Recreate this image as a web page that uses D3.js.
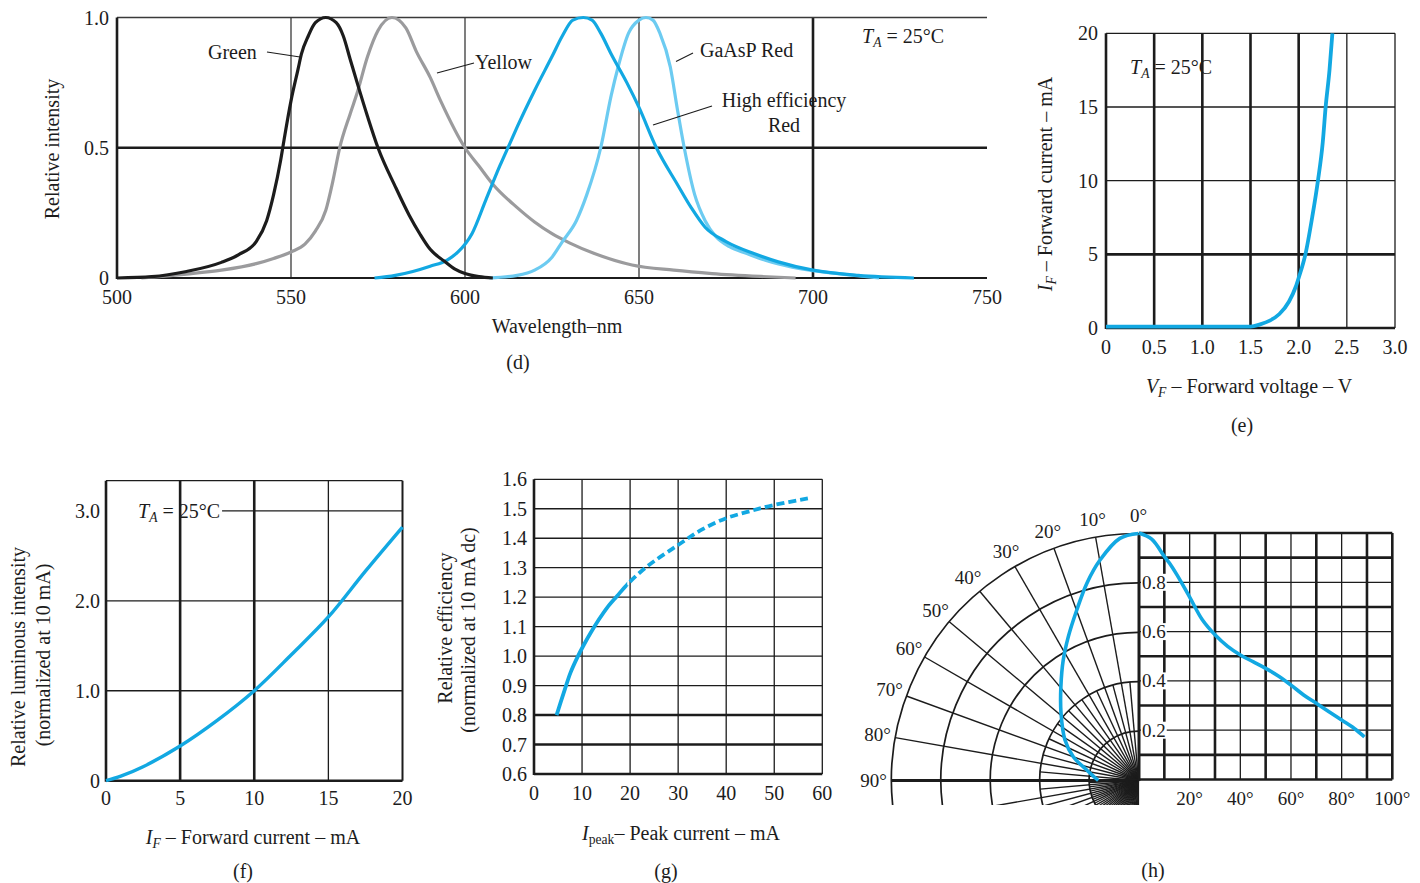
<!DOCTYPE html>
<html><head><meta charset="utf-8">
<script src="https://cdn.jsdelivr.net/npm/d3@7"></script>
<style>
html,body{margin:0;padding:0;background:#fff;}
svg text{font-family:"Liberation Serif","Times New Roman",serif;fill:#1c1c1c;}
</style></head><body>
<svg id="c" width="1420" height="883"></svg>
<script>
// ---------------- DATA ----------------
// (d) spectral response
const dWavelengthTicks = [500, 550, 600, 650, 700, 750];
const dWavelengthLabels = ["500", "550", "600", "650", "700", "750"];
const dIntensityTicks = [0, 0.5, 1.0];
const dIntensityLabels = ["0", "0.5", "1.0"];
const greenSpectrum = [[500,0],[510,0.005],[520,0.025],[530,0.06],[535,0.09],[540,0.14],[543,0.22],[545,0.32],[547,0.45],[548,0.53],[550,0.68],[552,0.8],[553,0.86],[555,0.93],[557,0.98],[560,1.0],[563,0.98],[565,0.93],[567,0.84],[569,0.75],[572,0.62],[575,0.5],[580,0.35],[584,0.24],[587,0.17],[590,0.11],[594,0.065],[597,0.035],[600,0.017],[604,0.005],[608,0]];
const yellowSpectrum = [[507,0],[520,0.015],[530,0.03],[540,0.055],[545,0.075],[550,0.1],[554,0.13],[557,0.18],[560,0.26],[562,0.37],[564,0.5],[567,0.63],[569,0.71],[572,0.85],[575,0.95],[579,1.0],[583,0.96],[586,0.87],[590,0.77],[593,0.68],[600,0.5],[604,0.43],[608,0.36],[615,0.27],[620,0.215],[625,0.17],[630,0.135],[637,0.095],[648,0.05],[660,0.03],[671,0.017],[685,0.006],[695,0]];
const hiEffRedSpectrum = [[574,0],[580,0.01],[585,0.025],[590,0.045],[595,0.07],[598,0.1],[602,0.17],[606,0.3],[610,0.43],[613,0.52],[615,0.58],[620,0.72],[625,0.85],[628,0.93],[631,0.99],[634,1.0],[636.5,0.99],[639,0.94],[642,0.86],[646.5,0.75],[650,0.655],[655,0.5],[661,0.36],[665,0.27],[669,0.195],[675,0.14],[683,0.094],[690,0.062],[700,0.03],[713,0.01],[729,0]];
const gaAsPRedSpectrum = [[607,0],[615,0.01],[620,0.03],[625,0.08],[628,0.14],[632,0.22],[635,0.32],[639,0.5],[642,0.7],[644,0.81],[647,0.94],[650,0.99],[652,1.0],[654,0.99],[656,0.94],[659,0.81],[661,0.65],[663,0.5],[666,0.32],[669,0.22],[672,0.16],[676,0.12],[681,0.094],[687,0.065],[694,0.042],[700,0.028],[709,0.014],[719,0]];

// (e) forward I-V
const eVoltageTicks = [0, 0.5, 1.0, 1.5, 2.0, 2.5, 3.0];
const eVoltageLabels = ["0", "0.5", "1.0", "1.5", "2.0", "2.5", "3.0"];
const eCurrentTicks = [0, 5, 10, 15, 20];
const eCurrentLabels = ["0", "5", "10", "15", "20"];
const forwardIV = [[0,0.1],[0.5,0.1],[1.0,0.1],[1.5,0.1],[1.6,0.25],[1.7,0.5],[1.8,0.95],[1.9,1.8],[1.97,2.8],[2.0,3.4],[2.07,5],[2.14,7.5],[2.2,10],[2.25,12.6],[2.28,15],[2.32,17.5],[2.35,20]];

// (f) luminous intensity vs forward current
const fCurrentTicks = [0, 5, 10, 15, 20];
const fCurrentLabels = ["0", "5", "10", "15", "20"];
const fIntensityTicks = [0, 1, 2, 3];
const fIntensityLabels = ["0", "1.0", "2.0", "3.0"];
const luminousVsCurrent = [[0,0],[1,0.05],[2.5,0.155],[5,0.385],[7.5,0.67],[10,1.0],[12.5,1.4],[15,1.82],[17.5,2.33],[20,2.82]];

// (g) relative efficiency vs peak current
const gCurrentTicks = [0, 10, 20, 30, 40, 50, 60];
const gCurrentLabels = ["0", "10", "20", "30", "40", "50", "60"];
const gEfficiencyTicks = [0.6, 0.7, 0.8, 0.9, 1.0, 1.1, 1.2, 1.3, 1.4, 1.5, 1.6];
const gEfficiencyLabels = ["0.6", "0.7", "0.8", "0.9", "1.0", "1.1", "1.2", "1.3", "1.4", "1.5", "1.6"];
const efficiencyVsPeak = [[4.7,0.8],[6.2,0.876],[7.6,0.944],[9,0.995],[10.3,1.036],[11.8,1.079],[13.5,1.124],[15.2,1.164],[17.3,1.204],[19.4,1.243],[23.6,1.305],[30,1.377],[35,1.43],[40,1.468],[45,1.492],[50,1.513],[57,1.535]];
const gSolidUntil = 19.4;

// (h) radiation pattern (angle in degrees, relative intensity)
const hPolarAngleLabels = [0, 10, 20, 30, 40, 50, 60, 70, 80, 90];
const hPolarRadii = [0.2, 0.4, 0.6, 0.8, 1.0];
const hAngleTicks = [20, 40, 60, 80, 100];
const hAngleLabels = ["20°", "40°", "60°", "80°", "100°"];
const hIntensityTicks = [0.2, 0.4, 0.6, 0.8];
const hIntensityLabels = ["0.2", "0.4", "0.6", "0.8"];
const radiationPolar = [[0,1.0],[4.4,0.983],[9.9,0.906],[14.7,0.825],[19.9,0.734],[26,0.648],[32,0.575],[39.6,0.493],[49.1,0.415],[61.1,0.34],[70,0.281],[78.5,0.214],[90,0.163]];
const radiationPattern = [[0,1.0],[5,0.975],[10,0.905],[12,0.878],[15,0.83],[20,0.74],[25,0.648],[30,0.587],[35,0.54],[40,0.505],[45,0.478],[50,0.451],[55,0.42],[60,0.383],[65,0.343],[70,0.309],[75,0.275],[80,0.241],[85,0.207],[89,0.173]];

// ---------------- STYLE ----------------
const INK = "#1c1c1c";
const BLUE = "#12a8e2";
const LIGHT = "#6ccbf1";
const GRAY = "#9b9b9d";
const FS = 20;
const THICK = 2.6, THIN = 1.3;

const svg = d3.select("#c");

function ln(g, x1, y1, x2, y2, w, color) {
  return g.append("line").attr("x1", x1).attr("y1", y1).attr("x2", x2).attr("y2", y2)
    .attr("stroke", color || INK).attr("stroke-width", w).attr("stroke-linecap", "butt");
}
function txt(g, x, y, s, anchor, size) {
  return g.append("text").attr("x", x).attr("y", y).attr("text-anchor", anchor || "middle")
    .attr("dominant-baseline", "central").attr("font-size", size || FS).text(s);
}
function rich(g, x, y, parts, opt) {
  opt = opt || {};
  const size = opt.size || FS;
  const t = g.append("text").attr("x", x).attr("y", y).attr("text-anchor", opt.anchor || "middle")
    .attr("dominant-baseline", "central").attr("font-size", size);
  if (opt.rotate) t.attr("transform", `rotate(-90,${x},${y})`);
  let inSub = false;
  parts.forEach(p => {
    const ts = t.append("tspan").text(p.t);
    if (p.it) ts.attr("font-style", "italic");
    if (p.sub) {
      ts.attr("font-size", size * 0.68);
      if (!inSub) ts.attr("dy", size * 0.3);
      inSub = true;
    } else {
      if (inSub) ts.attr("dy", -size * 0.3);
      inSub = false;
    }
  });
  return t;
}
const TA = [{t: "T", it: true}, {t: "A", it: true, sub: true}, {t: " = 25°C"}];

// ---------------- PANEL (d) ----------------
(function () {
  const g = svg.append("g");
  const x = d3.scaleLinear().domain([500, 750]).range([117, 987]);
  const y = d3.scaleLinear().domain([0, 1]).range([278, 17.5]);
  [550, 600, 650].forEach(v => ln(g, x(v), y(0), x(v), y(1), THIN, "#3a3a3a"));
  ln(g, x(700), y(0), x(700), y(1), THICK);
  ln(g, x(500), y(0.5), x(750), y(0.5), THICK);
  ln(g, x(500), y(1), x(750), y(1), THIN, "#3a3a3a");
  ln(g, x(500), y(0), x(750), y(0), 1.8);
  ln(g, x(500), y(0) + 1, x(500), y(1), THICK);
  dWavelengthTicks.forEach((v, i) => txt(g, x(v), 297, dWavelengthLabels[i]));
  dIntensityTicks.forEach((v, i) => txt(g, 109, y(v), dIntensityLabels[i], "end"));
  const line = d3.line().x(d => x(d[0])).y(d => y(d[1])).curve(d3.curveMonotoneX);
  [[yellowSpectrum, GRAY], [gaAsPRedSpectrum, LIGHT], [hiEffRedSpectrum, BLUE], [greenSpectrum, INK]].forEach(([data, c]) => {
    g.append("path").datum(data).attr("d", line).attr("fill", "none").attr("stroke", c)
      .attr("stroke-width", 3.2).attr("stroke-linejoin", "round");
  });
  txt(g, 208, 52, "Green", "start");
  ln(g, 267, 52, 300, 57, 1.2);
  txt(g, 475, 62, "Yellow", "start");
  ln(g, 437, 73, 474, 63, 1.2);
  txt(g, 700, 50, "GaAsP Red", "start");
  ln(g, 676, 61.5, 693, 53, 1.2);
  txt(g, 784, 100, "High efficiency");
  txt(g, 784, 125, "Red");
  ln(g, 653, 125, 712, 106, 1.2);
  rich(g, 862, 36, TA, {anchor: "start"});
  txt(g, 52, 149, "Relative intensity").attr("transform", "rotate(-90,52,149)");
  txt(g, 557, 326, "Wavelength–nm");
  txt(g, 518, 362, "(d)");
})();

// ---------------- PANEL (e) ----------------
(function () {
  const g = svg.append("g");
  const x = d3.scaleLinear().domain([0, 3]).range([1106, 1395]);
  const y = d3.scaleLinear().domain([0, 20]).range([328, 33.3]);
  [0.5, 1.0, 1.5, 2.0].forEach(v => ln(g, x(v), y(0), x(v), y(20), THICK));
  ln(g, x(2.5), y(0), x(2.5), y(20), THIN);
  ln(g, x(3), y(0), x(3), y(20), THIN);
  [10, 15].forEach(v => ln(g, x(0), y(v), x(3), y(v), THIN));
  ln(g, x(0), y(5), x(3), y(5), THICK);
  ln(g, x(0), y(20), x(3), y(20), THIN);
  ln(g, x(0), y(0), x(3), y(0), THICK);
  ln(g, x(0), y(0) + 1, x(0), y(20), THICK);
  eVoltageTicks.forEach((v, i) => txt(g, x(v), 347, eVoltageLabels[i]));
  eCurrentTicks.forEach((v, i) => txt(g, 1098, y(v), eCurrentLabels[i], "end"));
  const line = d3.line().x(d => x(d[0])).y(d => y(d[1])).curve(d3.curveMonotoneX);
  g.append("path").datum(forwardIV).attr("d", line).attr("fill", "none").attr("stroke", BLUE).attr("stroke-width", 3.8);
  rich(g, 1130, 67, TA, {anchor: "start"});
  rich(g, 1045, 184, [{t: "I", it: true}, {t: "F", it: true, sub: true}, {t: " – Forward current – mA"}], {rotate: true});
  rich(g, 1249, 386, [{t: "V", it: true}, {t: "F", it: true, sub: true}, {t: " – Forward voltage – V"}]);
  txt(g, 1242, 425, "(e)");
})();

// ---------------- PANEL (f) ----------------
(function () {
  const g = svg.append("g");
  const x = d3.scaleLinear().domain([0, 20]).range([106, 402.5]);
  const y = d3.scaleLinear().domain([0, 3.335]).range([780.7, 480.7]);
  [5, 10].forEach(v => ln(g, x(v), y(0), x(v), y(3.335), THICK));
  ln(g, x(15), y(0), x(15), y(3.335), THIN);
  ln(g, x(20), y(0), x(20), y(3.335), 2);
  [1, 2].forEach(v => ln(g, x(0), y(v), x(20), y(v), THIN));
  ln(g, x(0), y(3.335), x(20), y(3.335), THIN);
  ln(g, x(0), y(0), x(20), y(0), THICK);
  ln(g, x(0), y(0) + 1, x(0), y(3.335), THICK);
  fCurrentTicks.forEach((v, i) => txt(g, x(v), 798, fCurrentLabels[i]));
  fIntensityTicks.forEach((v, i) => txt(g, 100, y(v), fIntensityLabels[i], "end"));
  const lab = rich(g, 138, y(3), TA, {anchor: "start"});
  const bb = lab.node().getBBox();
  ln(g, bb.x + bb.width + 2, y(3), x(20), y(3), THIN);
  const line = d3.line().x(d => x(d[0])).y(d => y(d[1])).curve(d3.curveCatmullRom);
  g.append("path").datum(luminousVsCurrent).attr("d", line).attr("fill", "none").attr("stroke", BLUE).attr("stroke-width", 3.4);
  txt(g, 18, 657, "Relative luminous intensity").attr("transform", "rotate(-90,18,657)");
  txt(g, 43, 655, "(normalized at 10 mA)").attr("transform", "rotate(-90,43,655)");
  rich(g, 253, 837, [{t: "I", it: true}, {t: "F", it: true, sub: true}, {t: " – Forward current – mA"}]);
  txt(g, 243, 871, "(f)");
})();

// ---------------- PANEL (g) ----------------
(function () {
  const g = svg.append("g");
  const x = d3.scaleLinear().domain([0, 60]).range([534, 822.3]);
  const y = d3.scaleLinear().domain([0.6, 1.6]).range([774, 479.3]);
  gCurrentTicks.slice(1).forEach(v => ln(g, x(v), y(0.6), x(v), y(1.6), THIN));
  gEfficiencyTicks.slice(1).forEach(v => ln(g, x(0), y(v), x(60), y(v), (v === 0.7 || v === 0.8) ? THICK : THIN));
  ln(g, x(0), y(0.6), x(60), y(0.6), THICK);
  ln(g, x(0), y(0.6) + 1, x(0), y(1.6), THICK);
  gCurrentTicks.forEach((v, i) => txt(g, x(v), 793, gCurrentLabels[i]));
  gEfficiencyTicks.forEach((v, i) => txt(g, 527, y(v), gEfficiencyLabels[i], "end"));
  const line = d3.line().x(d => x(d[0])).y(d => y(d[1])).curve(d3.curveCatmullRom.alpha(0.5));
  g.append("path").datum(efficiencyVsPeak.filter(d => d[0] <= gSolidUntil + 4.3)).attr("d", line)
    .attr("fill", "none").attr("stroke", BLUE).attr("stroke-width", 3.8)
    .attr("stroke-dasharray", function () { const L = this.getTotalLength(); return null; });
  // solid part up to gSolidUntil, dashed beyond: draw full curve twice with clip regions
  g.selectAll("path").remove();
  const defs = svg.append("defs");
  defs.append("clipPath").attr("id", "gSolid").append("rect")
    .attr("x", x(0)).attr("y", y(1.6) - 10).attr("width", x(gSolidUntil) - x(0)).attr("height", y(0.6) - y(1.6) + 20);
  defs.append("clipPath").attr("id", "gDash").append("rect")
    .attr("x", x(gSolidUntil)).attr("y", y(1.6) - 10).attr("width", x(60) - x(gSolidUntil) + 10).attr("height", y(0.6) - y(1.6) + 20);
  g.append("path").datum(efficiencyVsPeak).attr("d", line).attr("clip-path", "url(#gSolid)")
    .attr("fill", "none").attr("stroke", BLUE).attr("stroke-width", 3.8);
  const dashed = g.append("path").datum(efficiencyVsPeak).attr("d", line).attr("clip-path", "url(#gDash)")
    .attr("fill", "none").attr("stroke", BLUE).attr("stroke-width", 3.8);
  // dash pattern starting at the solid/dash boundary
  const node = dashed.node();
  const total = node.getTotalLength();
  let lo = 0, hi = total;
  for (let k = 0; k < 40; k++) { const mid = (lo + hi) / 2; if (node.getPointAtLength(mid).x < x(gSolidUntil)) lo = mid; else hi = mid; }
  dashed.attr("stroke-dasharray", "8,4").attr("stroke-dashoffset", -(lo + 4));
  txt(g, 445, 628, "Relative efficiency").attr("transform", "rotate(-90,445,628)");
  txt(g, 468, 630, "(normalized at 10 mA dc)").attr("transform", "rotate(-90,468,630)");
  rich(g, 681, 833, [{t: "I", it: true}, {t: "peak", sub: true}, {t: "– Peak current – mA"}]);
  txt(g, 666, 871, "(g)");
})();

// ---------------- PANEL (h) ----------------
(function () {
  const g = svg.append("g");
  const cx = 1138.5, cy = 780.5, R = 247;
  const r = d3.scaleLinear().domain([0, 1]).range([0, R]);
  const rad = a => a * Math.PI / 180;
  svg.append("defs").append("clipPath").attr("id", "polarClip")
    .append("rect").attr("x", 850).attr("y", 480).attr("width", cx - 850 + 1).attr("height", 805 - 480);
  const pg = g.append("g").attr("clip-path", "url(#polarClip)");
  hPolarRadii.forEach(v => {
    const p = d3.path();
    p.moveTo(cx, cy - r(v));
    p.arc(cx, cy, r(v), -Math.PI / 2, -Math.PI * 1.25, true);
    pg.append("path").attr("d", p.toString()).attr("fill", "none").attr("stroke", INK).attr("stroke-width", 1.7);
  });
  d3.range(5, 181, 5).forEach(a => {
    const L = (a % 10 === 0) ? R : r(0.4);
    pg.append("line").attr("x1", cx).attr("y1", cy)
      .attr("x2", cx - L * Math.sin(rad(a))).attr("y2", cy - L * Math.cos(rad(a)))
      .attr("stroke", INK).attr("stroke-width", a === 90 ? 3 : 1.4);
  });
  d3.range(92.5, 181, 5).forEach(a => {
    pg.append("line").attr("x1", cx).attr("y1", cy)
      .attr("x2", cx - r(0.2) * Math.sin(rad(a))).attr("y2", cy - r(0.2) * Math.cos(rad(a)))
      .attr("stroke", INK).attr("stroke-width", 1.2);
  });
  hPolarAngleLabels.forEach(a => {
    txt(g, cx - 265 * Math.sin(rad(a)), cy - 265 * Math.cos(rad(a)), a + "°", "middle", 19);
  });
  const x = d3.scaleLinear().domain([0, 100]).range([1139, 1392.3]);
  const y = d3.scaleLinear().domain([0, 1]).range([779.5, 533]);
  d3.range(10, 101, 10).forEach(v => ln(g, x(v), y(0), x(v), y(1), (v % 20 === 10 || v === 100) ? THICK : THIN));
  d3.range(1, 11).forEach(k => {
    const v = k / 10;
    ln(g, x(0), y(v), x(100), y(v), (k % 2 === 1 || k === 10) ? THICK : THIN);
  });
  ln(g, x(0), y(0), x(100), y(0), THICK);
  ln(g, x(0), y(0) + 1.3, x(0), y(1), 3);
  hIntensityTicks.forEach((v, i) => {
    const t = txt(g, 1142, y(v), hIntensityLabels[i], "start", 19);
    const bb = t.node().getBBox();
    g.insert("rect", "text:last-of-type").attr("x", bb.x - 1).attr("y", bb.y + 2).attr("width", bb.width + 2).attr("height", bb.height - 4).attr("fill", "#fff");
    t.raise();
  });
  hAngleTicks.forEach((v, i) => txt(g, x(v), 798, hAngleLabels[i], "middle", 19));
  const polar = d3.lineRadial().angle(d => -rad(d[0])).radius(d => r(d[1])).curve(d3.curveCatmullRom);
  g.append("path").datum(radiationPolar).attr("d", polar).attr("transform", `translate(${cx},${cy})`)
    .attr("fill", "none").attr("stroke", BLUE).attr("stroke-width", 3.6);
  const cart = d3.line().x(d => x(d[0])).y(d => y(d[1])).curve(d3.curveCatmullRom);
  g.append("path").datum(radiationPattern).attr("d", cart).attr("fill", "none").attr("stroke", BLUE).attr("stroke-width", 3.6);
  txt(g, 1153, 870, "(h)");
})();
</script>
</body></html>
